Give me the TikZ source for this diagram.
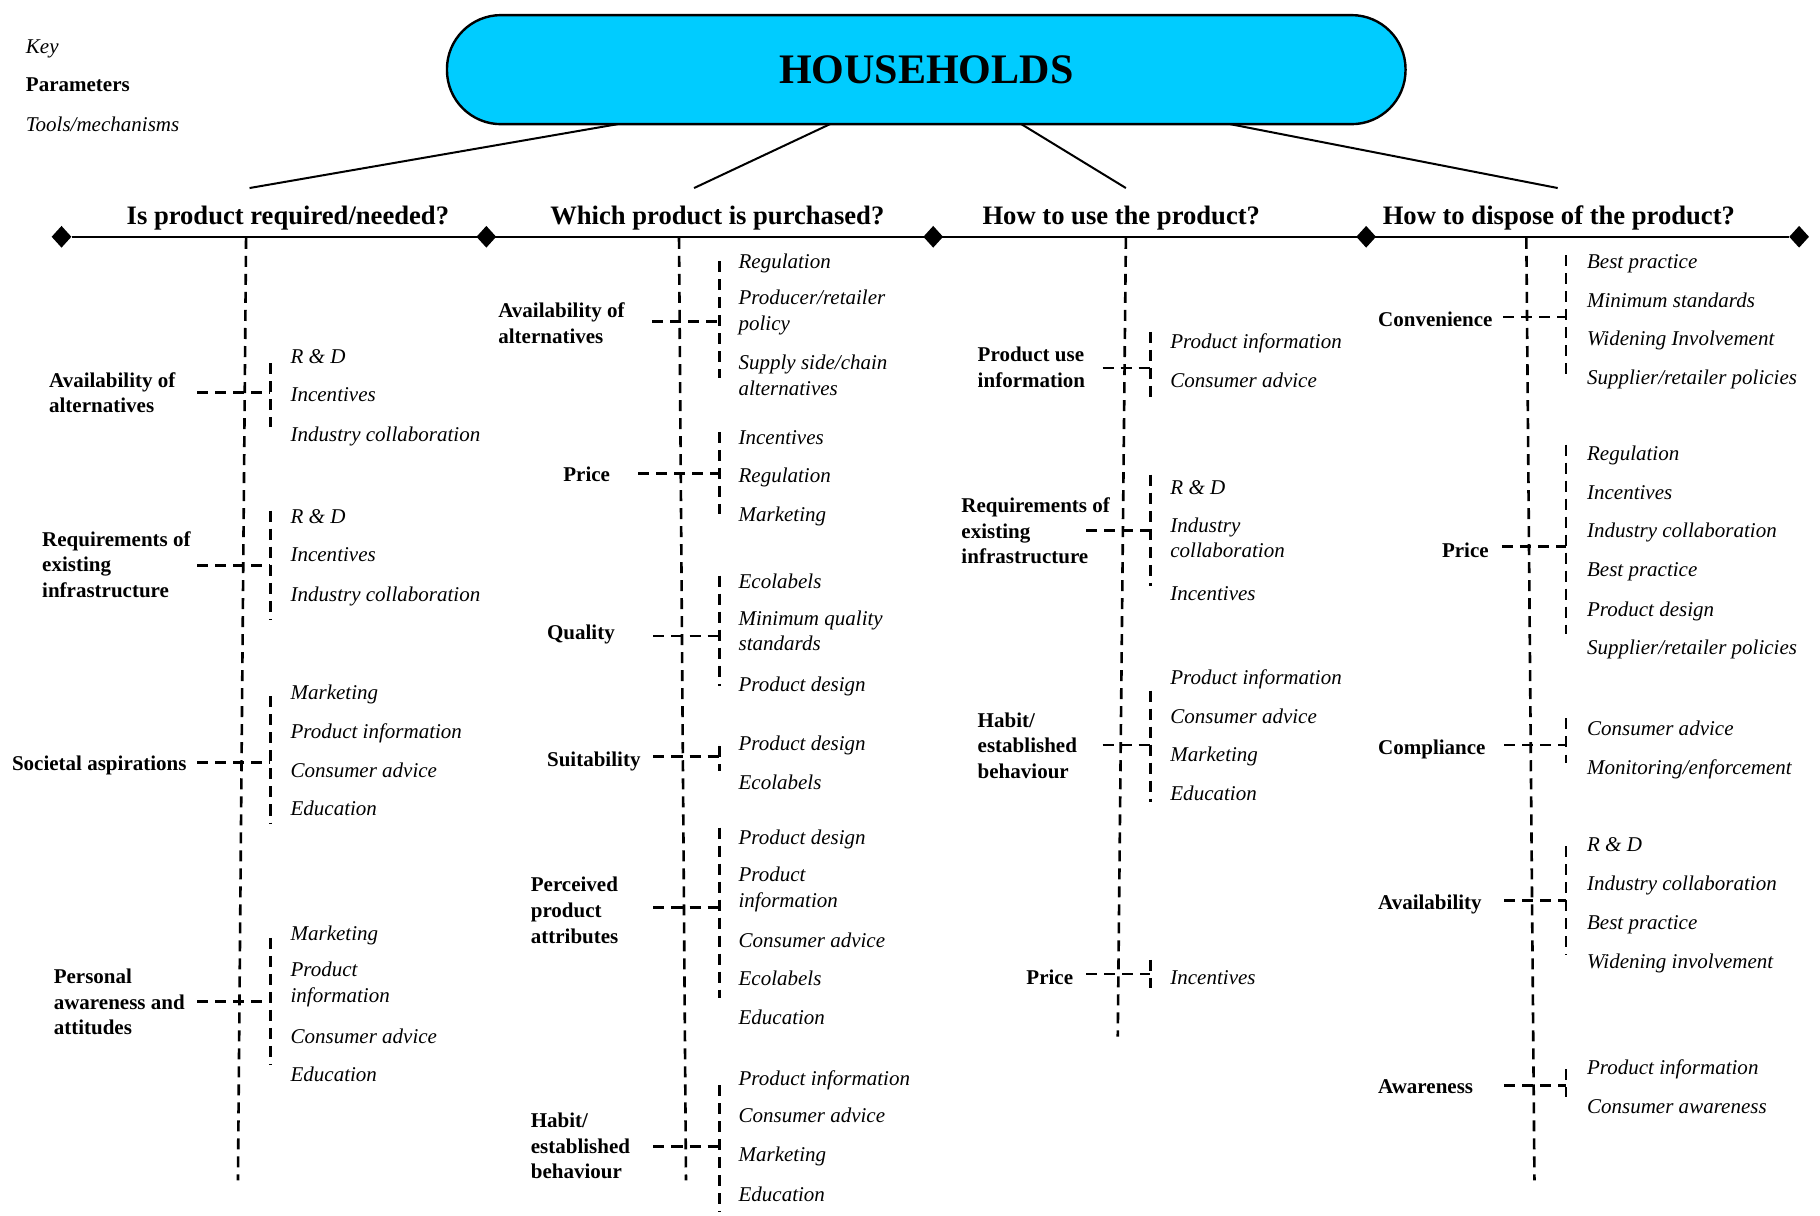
\documentclass[tikz,border=0pt]{standalone}
\usepackage{fontspec}
\setmainfont{Liberation Serif}
\usetikzlibrary{shapes.geometric}
\definecolor{hhblue}{RGB}{0,204,255}

\begin{document}
\begin{tikzpicture}[
  x=0.58pt, y=-0.58pt,
  every node/.style={inner sep=0pt},
  tool/.style={anchor=west, align=left, yshift=-1.5pt, font=\fontsize{10.5}{12.8}\selectfont\itshape,
    execute at begin node=\strut, execute at end node=\strut},
  param/.style={anchor=west, align=left, yshift=-1.5pt, font=\fontsize{10.5}{12.8}\selectfont\bfseries,
    execute at begin node=\strut, execute at end node=\strut},
  question/.style={yshift=-1.2pt, font=\fontsize{13.3}{16}\selectfont\bfseries},
  pill/.style={draw, line width=1.2pt, fill=hhblue, rounded corners=27pt,
    minimum width=479pt, minimum height=54.5pt, font=\fontsize{21}{25}\selectfont\bfseries},
  endmark/.style={diamond, fill=black, minimum width=10pt, minimum height=11pt},
  link/.style={line width=1pt},
  mainline/.style={line width=1.2pt},
  dline/.style={line width=1.3pt, dash pattern=on 5.5pt off 3.5pt}
]
\useasboundingbox (0,0) rectangle (1568,1047);

% key
\node[tool] (key) at (22,39) {Key};
\node[param] (keyp) at (22,72) {Parameters};
\node[tool] (keyt) at (22,106) {Tools/mechanisms};

% top
\node[pill] (hh) at (798,60) {HOUSEHOLDS};
\node[question] (q1) at (248,186) {Is product required/needed?};
\node[question] (q2) at (618,186) {Which product is purchased?};
\node[question] (q3) at (966,186) {How to use the product?};
\node[question] (q4) at (1343,186) {How to dispose of the product?};

\coordinate (h1) at (532,107); \coordinate (e1) at (215,162);
\coordinate (h2) at (715,107); \coordinate (e2) at (598,162);
\coordinate (h3) at (880,107); \coordinate (e3) at (970,162);
\coordinate (h4) at (1060,107); \coordinate (e4) at (1342,162);
\foreach \i in {1,...,4}
  \draw[link] (h\i) -- (e\i);

\node[endmark] (d1) at (53,204) {};
\node[endmark] (d2) at (419,204) {};
\node[endmark] (d3) at (804,204) {};
\node[endmark] (d4) at (1177,204) {};
\node[endmark] (d5) at (1550,204) {};
\draw[mainline] (d1) -- (d5);

% trunks
\coordinate (t1a) at (212,205); \coordinate (t1b) at (205,1017);
\coordinate (t2a) at (585,205); \coordinate (t2b) at (591,1017);
\coordinate (t3a) at (970,205); \coordinate (t3b) at (963,893);
\coordinate (t4a) at (1315,205); \coordinate (t4b) at (1322,1017);
\foreach \i in {1,...,4}
  \draw[dline] (t\i a) -- (t\i b);

% Is product required/needed?
\node[param] (nAv) at (42,339) {Availability of\\alternatives};
\coordinate (nAv-s) at (170,338);
\coordinate (nAv-t) at (233,313); \coordinate (nAv-b) at (233,368);
\draw[dline] (nAv-s) -- (nAv-s -| nAv-t);
\draw[dline] (nAv-t) -- (nAv-b);
\foreach \y/\t [count=\i] in {306/{R \& D}, 339/{Incentives}, 373/{Industry collaboration}}
  \node[tool] (nAv\i) at (250,\y) {\t};

\node[param] (nRq) at (36,487) {Requirements of\\existing\\infrastructure};
\coordinate (nRq-s) at (170,487);
\coordinate (nRq-t) at (233,440); \coordinate (nRq-b) at (233,534);
\draw[dline] (nRq-s) -- (nRq-s -| nRq-t);
\draw[dline] (nRq-t) -- (nRq-b);
\foreach \y/\t [count=\i] in {444/{R \& D}, 477/{Incentives}, 511/{Industry collaboration}}
  \node[tool] (nRq\i) at (250,\y) {\t};

\node[param] (nSo) at (10,657) {Societal aspirations};
\coordinate (nSo-s) at (170,657);
\coordinate (nSo-t) at (233,600); \coordinate (nSo-b) at (233,710);
\draw[dline] (nSo-s) -- (nSo-s -| nSo-t);
\draw[dline] (nSo-t) -- (nSo-b);
\foreach \y/\t [count=\i] in {596/{Marketing}, 629/{Product information}, 663/{Consumer advice}, 696/{Education}}
  \node[tool] (nSo\i) at (250,\y) {\t};

\node[param] (nPe) at (46,864) {Personal\\awareness and\\attitudes};
\coordinate (nPe-s) at (170,863);
\coordinate (nPe-t) at (233,808); \coordinate (nPe-b) at (233,917);
\draw[dline] (nPe-s) -- (nPe-s -| nPe-t);
\draw[dline] (nPe-t) -- (nPe-b);
\foreach \y/\t [count=\i] in {803/{Marketing}, 847/{Product\\information}, 892/{Consumer advice}, 925/{Education}}
  \node[tool] (nPe\i) at (250,\y) {\t};

% Which product is purchased?
\node[param] (bAv) at (429,279) {Availability of\\alternatives};
\coordinate (bAv-s) at (562,277);
\coordinate (bAv-t) at (620,225); \coordinate (bAv-b) at (620,326);
\draw[dline] (bAv-s) -- (bAv-s -| bAv-t);
\draw[dline] (bAv-t) -- (bAv-b);
\foreach \y/\t [count=\i] in {224/{Regulation}, 268/{Producer/retailer\\policy}, 324/{Supply side/chain\\alternatives}}
  \node[tool] (bAv\i) at (636,\y) {\t};

\node[param] (bPr) at (485,408) {Price};
\coordinate (bPr-s) at (550,408);
\coordinate (bPr-t) at (620,372); \coordinate (bPr-b) at (620,443);
\draw[dline] (bPr-s) -- (bPr-s -| bPr-t);
\draw[dline] (bPr-t) -- (bPr-b);
\foreach \y/\t [count=\i] in {376/{Incentives}, 409/{Regulation}, 442/{Marketing}}
  \node[tool] (bPr\i) at (636,\y) {\t};

\node[param] (bQu) at (471,544) {Quality};
\coordinate (bQu-s) at (563,548);
\coordinate (bQu-t) at (620,496); \coordinate (bQu-b) at (620,591);
\draw[dline] (bQu-s) -- (bQu-s -| bQu-t);
\draw[dline] (bQu-t) -- (bQu-b);
\foreach \y/\t [count=\i] in {500/{Ecolabels}, 544/{Minimum quality\\standards}, 589/{Product design}}
  \node[tool] (bQu\i) at (636,\y) {\t};

\node[param] (bSu) at (471,653) {Suitability};
\coordinate (bSu-s) at (563,652);
\coordinate (bSu-t) at (620,643); \coordinate (bSu-b) at (620,664);
\draw[dline] (bSu-s) -- (bSu-s -| bSu-t);
\draw[dline] (bSu-t) -- (bSu-b);
\foreach \y/\t [count=\i] in {640/{Product design}, 673/{Ecolabels}}
  \node[tool] (bSu\i) at (636,\y) {\t};

\node[param] (bPe) at (457,785) {Perceived\\product\\attributes};
\coordinate (bPe-s) at (563,782);
\coordinate (bPe-t) at (620,713); \coordinate (bPe-b) at (620,860);
\draw[dline] (bPe-s) -- (bPe-s -| bPe-t);
\draw[dline] (bPe-t) -- (bPe-b);
\foreach \y/\t [count=\i] in {721/{Product design}, 765/{Product\\information}, 809/{Consumer advice}, 842/{Ecolabels}, 876/{Education}}
  \node[tool] (bPe\i) at (636,\y) {\t};

\node[param] (bHa) at (457,988) {Habit/\\established\\behaviour};
\coordinate (bHa-s) at (563,988);
\coordinate (bHa-t) at (620,935); \coordinate (bHa-b) at (620,1044);
\draw[dline] (bHa-s) -- (bHa-s -| bHa-t);
\draw[dline] (bHa-t) -- (bHa-b);
\foreach \y/\t [count=\i] in {928/{Product information}, 960/{Consumer advice}, 994/{Marketing}, 1028/{Education}}
  \node[tool] (bHa\i) at (636,\y) {\t};

% How to use the product?
\node[param] (uIn) at (842,317) {Product use\\information};
\coordinate (uIn-s) at (950,317);
\coordinate (uIn-t) at (991,286); \coordinate (uIn-b) at (991,342);
\draw[dline] (uIn-s) -- (uIn-s -| uIn-t);
\draw[dline] (uIn-t) -- (uIn-b);
\foreach \y/\t [count=\i] in {293/{Product information}, 327/{Consumer advice}}
  \node[tool] (uIn\i) at (1008,\y) {\t};

\node[param] (uRq) at (828,458) {Requirements of\\existing\\infrastructure};
\coordinate (uRq-s) at (936,457);
\coordinate (uRq-t) at (991,409); \coordinate (uRq-b) at (991,505);
\draw[dline] (uRq-s) -- (uRq-s -| uRq-t);
\draw[dline] (uRq-t) -- (uRq-b);
\foreach \y/\t [count=\i] in {419/{R \& D}, 464/{Industry\\collaboration}, 510/{Incentives}}
  \node[tool] (uRq\i) at (1008,\y) {\t};

\node[param] (uHa) at (842,643) {Habit/\\established\\behaviour};
\coordinate (uHa-s) at (950,642);
\coordinate (uHa-t) at (991,595); \coordinate (uHa-b) at (991,691);
\draw[dline] (uHa-s) -- (uHa-s -| uHa-t);
\draw[dline] (uHa-t) -- (uHa-b);
\foreach \y/\t [count=\i] in {583/{Product information}, 616/{Consumer advice}, 649/{Marketing}, 683/{Education}}
  \node[tool] (uHa\i) at (1008,\y) {\t};

\node[param] (uPr) at (884,841) {Price};
\coordinate (uPr-s) at (936,839);
\coordinate (uPr-t) at (991,827); \coordinate (uPr-b) at (991,851);
\draw[dline] (uPr-s) -- (uPr-s -| uPr-t);
\draw[dline] (uPr-t) -- (uPr-b);
\node[tool] (uPr1) at (1008,841) {Incentives};

% How to dispose of the product?
\node[param] (dCo) at (1187,274) {Convenience};
\coordinate (dCo-s) at (1295,273);
\coordinate (dCo-t) at (1349,220); \coordinate (dCo-b) at (1349,322);
\draw[dline] (dCo-s) -- (dCo-s -| dCo-t);
\draw[dline] (dCo-t) -- (dCo-b);
\foreach \y/\t [count=\i] in {224/{Best practice}, 258/{Minimum standards}, 291/{Widening Involvement}, 324/{Supplier/retailer policies}}
  \node[tool] (dCo\i) at (1367,\y) {\t};

\node[param] (dPr) at (1242,473) {Price};
\coordinate (dPr-s) at (1294,471);
\coordinate (dPr-t) at (1349,383); \coordinate (dPr-b) at (1349,546);
\draw[dline] (dPr-s) -- (dPr-s -| dPr-t);
\draw[dline] (dPr-t) -- (dPr-b);
\foreach \y/\t [count=\i] in {390/{Regulation}, 423/{Incentives}, 456/{Industry collaboration}, 490/{Best practice}, 524/{Product design}, 557/{Supplier/retailer policies}}
  \node[tool] (dPr\i) at (1367,\y) {\t};

\node[param] (dCm) at (1187,643) {Compliance};
\coordinate (dCm-s) at (1296,642);
\coordinate (dCm-t) at (1349,619); \coordinate (dCm-b) at (1349,657);
\draw[dline] (dCm-s) -- (dCm-s -| dCm-t);
\draw[dline] (dCm-t) -- (dCm-b);
\foreach \y/\t [count=\i] in {627/{Consumer advice}, 660/{Monitoring/enforcement}}
  \node[tool] (dCm\i) at (1367,\y) {\t};

\node[param] (dAv) at (1187,777) {Availability};
\coordinate (dAv-s) at (1296,776);
\coordinate (dAv-t) at (1349,729); \coordinate (dAv-b) at (1349,823);
\draw[dline] (dAv-s) -- (dAv-s -| dAv-t);
\draw[dline] (dAv-t) -- (dAv-b);
\foreach \y/\t [count=\i] in {727/{R \& D}, 760/{Industry collaboration}, 794/{Best practice}, 827/{Widening involvement}}
  \node[tool] (dAv\i) at (1367,\y) {\t};

\node[param] (dAw) at (1187,935) {Awareness};
\coordinate (dAw-s) at (1296,935);
\coordinate (dAw-t) at (1349,921); \coordinate (dAw-b) at (1349,945);
\draw[dline] (dAw-s) -- (dAw-s -| dAw-t);
\draw[dline] (dAw-t) -- (dAw-b);
\foreach \y/\t [count=\i] in {919/{Product information}, 952/{Consumer awareness}}
  \node[tool] (dAw\i) at (1367,\y) {\t};

\end{tikzpicture}
\end{document}
